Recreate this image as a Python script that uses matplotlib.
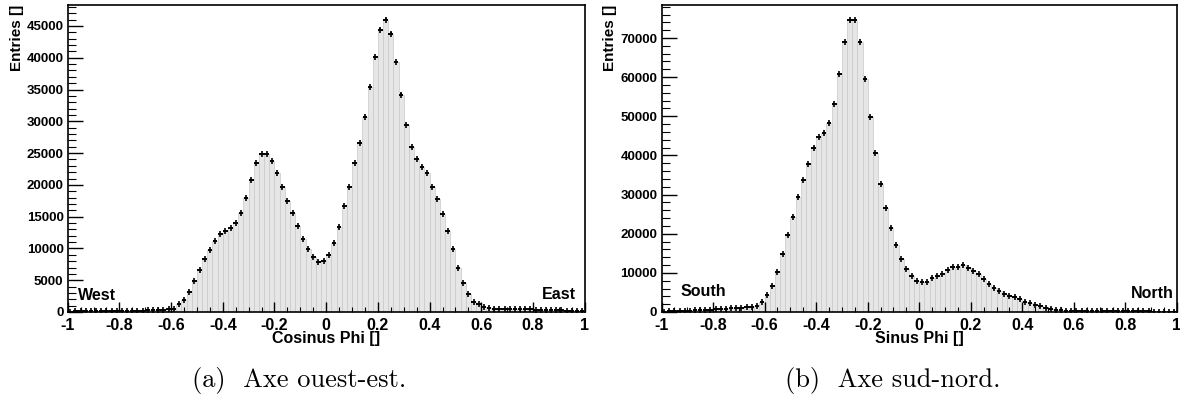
import numpy as np
import matplotlib
matplotlib.use('agg')
import matplotlib.pyplot as plt

plt.rcParams['font.family'] = ['Liberation Sans', 'DejaVu Sans']
plt.rcParams['font.weight'] = 'bold'

# 100 bins from -1 to 1
bin_edges = np.linspace(-1, 1, 101)

cos_counts = [60, 80, 100, 110, 120, 130, 140, 150, 160, 170,
              180, 190, 200, 210, 230, 250, 270, 300, 330, 400,
              520, 1200, 1950, 3150, 4850, 6550, 8350, 9700, 11200, 12300,
              12800, 13200, 14000, 15500, 18000, 20700, 23500, 24900, 24900, 23700,
              21900, 19600, 17500, 15500, 13600, 11500, 9900, 8600, 7800, 8000,
              9000, 10900, 13400, 16600, 19700, 23400, 26600, 30700, 35400, 40100,
              44400, 46000, 43800, 39300, 34200, 29400, 26000, 24100, 22800, 21900,
              19700, 17800, 15400, 12800, 9900, 7000, 4600, 2800, 1600, 1200,
              800, 620, 540, 500, 480, 460, 450, 440, 420, 400,
              380, 360, 330, 300, 270, 240, 210, 190, 170, 150]

sin_counts = [100, 150, 200, 250, 300, 340, 390, 450, 520, 600,
              680, 760, 850, 930, 1000, 1080, 1180, 1350, 1650, 2600,
              4300, 6700, 10200, 14700, 19600, 24300, 29300, 33600, 37800, 41800,
              44600, 45800, 48300, 53100, 60700, 68900, 74700, 74600, 69000, 59500,
              49800, 40600, 32700, 26600, 21400, 17000, 13600, 10900, 9100, 8000,
              7600, 7700, 8600, 9300, 9800, 10700, 11400, 11600, 11900, 11300,
              10500, 9600, 8500, 7100, 6100, 5300, 4700, 4200, 3800, 3200,
              2600, 2200, 1800, 1500, 1100, 800, 600, 430, 350, 300,
              270, 250, 240, 230, 220, 210, 200, 200, 190, 180,
              170, 160, 150, 140, 130, 120, 110, 100, 90, 80]

x_ticks = [-1, -0.8, -0.6, -0.4, -0.2, 0, 0.2, 0.4, 0.6, 0.8, 1]
x_ticklabels = ['-1', '-0.8', '-0.6', '-0.4', '-0.2', '0', '0.2', '0.4', '0.6', '0.8', '1']

panels = [
    dict(counts=cos_counts, xlabel='Cosinus Phi []', left='West', right='East',
         yticks=np.arange(0, 45001, 5000), yminor=1000, caption='(a)  Axe ouest-est.',
         ax_left=67.7, ax_right=584.7, ylab_x=16.5, cap_x=299.5,
         left_pos=(0.02, 0.039), right_pos=(0.983, 0.042)),
    dict(counts=sin_counts, xlabel='Sinus Phi []', left='South', right='North',
         yticks=np.arange(0, 70001, 10000), yminor=2000, caption='(b)  Axe sud-nord.',
         ax_left=661.5, ax_right=1177, ylab_x=610, cap_x=893,
         left_pos=(0.036, 0.052), right_pos=(0.994, 0.045)),
]

W, H = 1180, 396
fig = plt.figure(figsize=(W / 100, H / 100), dpi=100)

ax_top, ax_bot = 5, 312
for p in panels:
    counts = np.array(p['counts'], dtype=float)
    centers = 0.5 * (bin_edges[:-1] + bin_edges[1:])
    ax = fig.add_axes([p['ax_left'] / W, 1 - ax_bot / H,
                       (p['ax_right'] - p['ax_left']) / W, (ax_bot - ax_top) / H])
    ax.bar(centers, counts, width=0.02, color='#e6e6e6', edgecolor='#c8c8c8', linewidth=0.5)
    ax.errorbar(centers, counts, xerr=0.009, yerr=np.sqrt(counts), fmt='none',
                ecolor='black', elinewidth=1.4, capsize=0)
    ax.plot(centers, counts, ls='none', marker='|', ms=4, mew=1.2, color='black')

    ax.set_xlim(-1, 1)
    ax.set_ylim(0, counts.max() * 1.05)
    ax.set_xticks(x_ticks)
    ax.set_xticklabels(x_ticklabels)
    ax.set_xticks(np.arange(-1, 1.001, 0.05), minor=True)
    ax.set_yticks(p['yticks'])
    ax.set_yticklabels([str(int(v)) for v in p['yticks']])
    ax.set_yticks(np.arange(0, counts.max() * 1.05, p['yminor']), minor=True)

    ax.tick_params(axis='x', which='major', direction='in', length=7.2, width=1.0,
                   labelsize=11.5, pad=4.5, top=False)
    ax.tick_params(axis='x', which='minor', direction='in', length=3.4, width=0.8, top=False)
    ax.tick_params(axis='y', which='major', direction='in', length=10.8, width=1.0,
                   labelsize=9.5, pad=3, right=False)
    ax.tick_params(axis='y', which='minor', direction='in', length=5.4, width=0.8, right=False)
    for s in ax.spines.values():
        s.set_linewidth(1.2)

    ax.text(p['left_pos'][0], p['left_pos'][1], p['left'], transform=ax.transAxes,
            ha='left', va='baseline', fontsize=11.5, fontweight='bold')
    ax.text(p['right_pos'][0], p['right_pos'][1], p['right'], transform=ax.transAxes,
            ha='right', va='baseline', fontsize=11.5, fontweight='bold')

    ax_mid = 0.5 * (p['ax_left'] + p['ax_right'])
    fig.text(ax_mid / W, 1 - 339 / H, p['xlabel'], ha='center', va='center',
             fontsize=11.5, fontweight='bold')
    fig.text(p['ylab_x'] / W, 1 - ax_top / H, 'Entries []', rotation=90,
             ha='center', va='top', fontsize=11, fontweight='bold')
    fig.text(p['cap_x'] / W, 1 - 380 / H, p['caption'], ha='center', va='center',
             fontsize=19, fontweight='normal', family='cmr10')

fig.savefig('out.png', dpi=100)
